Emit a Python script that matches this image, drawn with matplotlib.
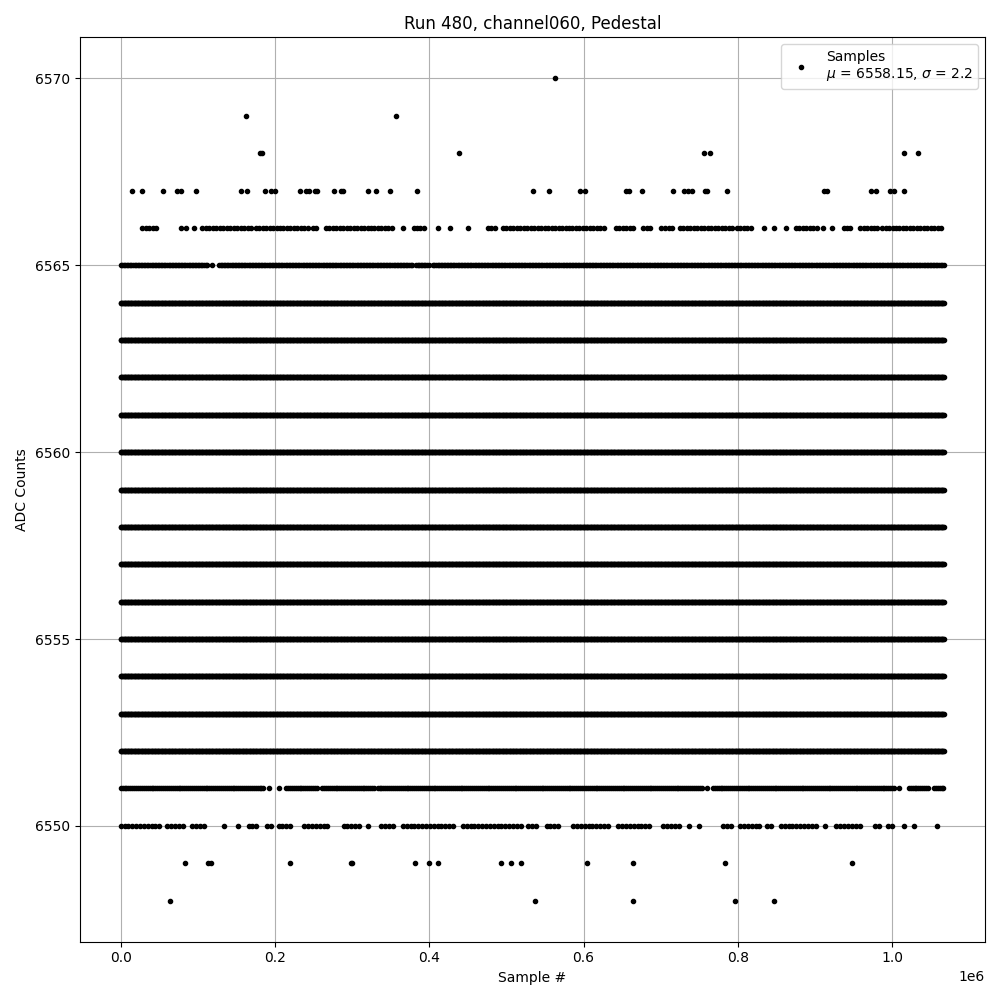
import numpy as np
import matplotlib
matplotlib.use("Agg")
import matplotlib.pyplot as plt

# number of samples in the run
n_samples = 1068000
mean_adc = 6558.15
sigma_adc = 2.2

# levels that are filled over the whole run
full_levels = [6553, 6554, 6555, 6556, 6557, 6558, 6559, 6560, 6561, 6562, 6563, 6564]

# runs of samples (start, end) in units of 1e6 samples
runs_6566 = [(0.028, 0.0485), (0.078, 0.078), (0.085, 0.085), (0.095, 0.095),
             (0.106, 0.171), (0.175, 0.2445), (0.249, 0.2575), (0.266, 0.355),
             (0.3657, 0.3657), (0.3796, 0.396), (0.4112, 0.4112), (0.4264, 0.4264),
             (0.4502, 0.4502), (0.476, 0.487), (0.4956, 0.630), (0.642, 0.6666),
             (0.6774, 0.690), (0.700, 0.700), (0.7056, 0.7186), (0.725, 0.794),
             (0.7987, 0.818), (0.8333, 0.8333), (0.8463, 0.8463), (0.8627, 0.8627),
             (0.8753, 0.9026), (0.911, 0.911), (0.922, 0.922), (0.937, 0.950),
             (0.958, 0.958), (0.963, 0.9826), (0.987, 1.067)]
runs_6565 = [(0.0, 0.1125), (0.119, 0.119), (0.1277, 0.3787), (0.383, 0.4004),
             (0.4047, 1.068)]
runs_6552 = [(0.0, 1.068)]
runs_6551 = [(0.0, 0.186), (0.1917, 0.1917), (0.2056, 0.2056), (0.2143, 0.2554),
             (0.261, 0.329), (0.333, 0.755), (0.7597, 0.7597), (0.7675, 1.004),
             (1.0095, 1.0095), (1.0215, 1.0475), (1.054, 1.068)]
runs_6550 = [(0.0, 0.054), (0.0605, 0.085), (0.093, 0.110), (0.1333, 0.1333),
             (0.1523, 0.1523), (0.1657, 0.1774), (0.1896, 0.1969), (0.2047, 0.2229),
             (0.238, 0.2727), (0.289, 0.3138), (0.320, 0.320), (0.3377, 0.357),
             (0.3657, 0.435), (0.4436, 0.5216), (0.528, 0.5423), (0.552, 0.570),
             (0.5865, 0.636), (0.645, 0.686), (0.7034, 0.725), (0.737, 0.737),
             (0.750, 0.750), (0.7805, 0.794), (0.803, 0.831), (0.8377, 0.8463),
             (0.8558, 0.9047), (0.9134, 0.9134), (0.9277, 0.9623), (0.9783, 0.987),
             (0.9948, 1.003), (1.0151, 1.0151), (1.028, 1.028), (1.0575, 1.0575)]

# isolated samples (units of 1e6)
dots_6570 = [0.5631]
dots_6569 = [0.163, 0.3566]
dots_6568 = [0.1805, 0.183, 0.4385, 0.7566, 0.7644, 1.0151, 1.0332]
dots_6567 = [0.0151, 0.0281, 0.0554, 0.0735, 0.0787, 0.0982, 0.1558, 0.164,
             0.1865, 0.1948, 0.2004, 0.2325, 0.2403, 0.2436, 0.2519, 0.2549,
             0.276, 0.2852, 0.2887, 0.3203, 0.3307, 0.3488, 0.3839, 0.5345,
             0.5553, 0.5952, 0.6021, 0.6549, 0.6584, 0.6757, 0.7164, 0.7307,
             0.7359, 0.7403, 0.7571, 0.7606, 0.7865, 0.9121, 0.9156, 0.9731,
             0.9792, 0.9977, 1.002, 1.0151]
dots_6549 = [0.0839, 0.1138, 0.1169, 0.219, 0.2982, 0.3004, 0.3813, 0.3995,
             0.4112, 0.4935, 0.5065, 0.5195, 0.6047, 0.6644, 0.7839, 0.9475]
dots_6548 = [0.0644, 0.5371, 0.6644, 0.7969, 0.8463]

xs = []
ys = []

def add_runs(level, runs, stride=1000):
    # plot every stride-th sample inside a run
    for a, b in runs:
        i0 = int(round(a * 1e6))
        i1 = min(int(round(b * 1e6)), n_samples - 1)
        idx = np.arange(i0, i1 + 1, stride) if i1 > i0 else np.array([i0])
        xs.append(idx)
        ys.append(np.full(len(idx), level))

def add_dots(level, dots):
    idx = np.round(np.array(dots) * 1e6).astype(int)
    xs.append(idx)
    ys.append(np.full(len(idx), level))

for lev in full_levels:
    add_runs(lev, [(0.0, n_samples / 1e6)])
add_runs(6566, runs_6566, stride=4500)
add_runs(6565, runs_6565, stride=2000)
add_runs(6552, runs_6552)
add_runs(6551, runs_6551, stride=2500)
add_runs(6550, runs_6550, stride=5000)
add_dots(6570, dots_6570)
add_dots(6569, dots_6569)
add_dots(6568, dots_6568)
add_dots(6567, dots_6567)
add_dots(6549, dots_6549)
add_dots(6548, dots_6548)

x = np.concatenate(xs)
y = np.concatenate(ys)

fig, ax = plt.subplots(figsize=(10, 10), dpi=100)
ax.plot(x, y, '.', color='k',
        label="Samples\n$\\mu$ = %.2f, $\\sigma$ = %.1f" % (mean_adc, sigma_adc))
ax.set_xlabel("Sample #")
ax.set_ylabel("ADC Counts")
ax.set_title("Run 480, channel060, Pedestal")
ax.grid(True)
ax.legend(loc='upper right')
plt.tight_layout()
plt.savefig("out.png")
